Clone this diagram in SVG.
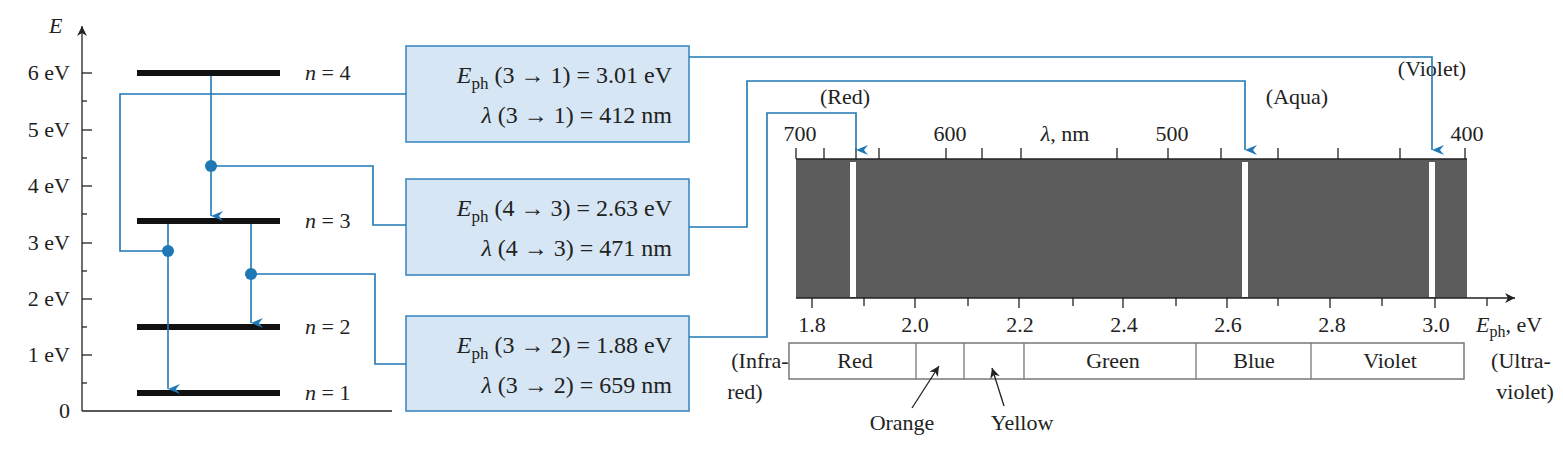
<svg xmlns="http://www.w3.org/2000/svg" width="1563" height="449" viewBox="0 0 1563 449">
<style>
text{font-family:"Liberation Serif",serif;font-size:22px;fill:#222}
.bx{font-size:24px}
.i{font-style:italic}
.c{fill:none;stroke:#1f78b4;stroke-width:1.6}
.lvl{stroke:#111;stroke-width:6}
.box{fill:#d6e6f4;stroke:#3d8ac4;stroke-width:1.6}
.t{stroke:#222;stroke-width:1.3}
</style>
<defs>
<marker id="ba" markerWidth="10" markerHeight="12" refX="5" refY="12" orient="auto-start-reverse" markerUnits="userSpaceOnUse" viewBox="0 0 10 12"><path d="M0,0 L5,4 L10,0 L5,12Z" fill="#1f78b4"/></marker>
<marker id="ka" markerWidth="10" markerHeight="14" refX="10" refY="5" orient="auto" markerUnits="userSpaceOnUse" viewBox="0 0 10 10"><path d="M0,0 L10,5 L0,10 L3,5Z" fill="#222"/></marker>
</defs>
<g id="axis">
<line x1="82" y1="411" x2="82" y2="26" class="t" marker-end="url(#ka)"/>
<line x1="82" y1="411" x2="392" y2="411" class="t"/>
<text x="49" y="33" class="i">E</text>
<g class="t">
<line x1="82" y1="73" x2="92" y2="73"/><line x1="82" y1="130" x2="92" y2="130"/><line x1="82" y1="186" x2="92" y2="186"/><line x1="82" y1="243" x2="92" y2="243"/><line x1="82" y1="299" x2="92" y2="299"/><line x1="82" y1="355" x2="92" y2="355"/>
<line x1="82" y1="101" x2="87" y2="101"/><line x1="82" y1="158" x2="87" y2="158"/><line x1="82" y1="214" x2="87" y2="214"/><line x1="82" y1="271" x2="87" y2="271"/><line x1="82" y1="327" x2="87" y2="327"/><line x1="82" y1="383" x2="87" y2="383"/>
</g>
<g text-anchor="end">
<text x="70" y="80">6 eV</text><text x="70" y="137">5 eV</text><text x="70" y="193">4 eV</text><text x="70" y="250">3 eV</text><text x="70" y="306">2 eV</text><text x="70" y="362">1 eV</text><text x="70" y="418">0</text>
</g>
</g>
<g id="levels">
<line x1="137" y1="73" x2="280" y2="73" class="lvl"/><text x="305" y="80"><tspan class="i">n</tspan> = 4</text>
<line x1="137" y1="221" x2="280" y2="221" class="lvl"/><text x="305" y="228"><tspan class="i">n</tspan> = 3</text>
<line x1="137" y1="327" x2="280" y2="327" class="lvl"/><text x="305" y="334"><tspan class="i">n</tspan> = 2</text>
<line x1="137" y1="393" x2="280" y2="393" class="lvl"/><text x="305" y="400"><tspan class="i">n</tspan> = 1</text>
</g>
<g id="box1"><rect x="406" y="46" width="283" height="96" class="box"/>
<text x="672" y="83" text-anchor="end" class="bx"><tspan class="i">E</tspan><tspan font-size="17" dy="6">ph</tspan><tspan dy="-6"> (3 → 1) = 3.01 eV</tspan></text>
<text x="672" y="123" text-anchor="end" class="bx"><tspan class="i">λ</tspan> (3 → 1) = 412 nm</text></g>
<g id="box2"><rect x="406" y="179" width="283" height="96" class="box"/>
<text x="672" y="216" text-anchor="end" class="bx"><tspan class="i">E</tspan><tspan font-size="17" dy="6">ph</tspan><tspan dy="-6"> (4 → 3) = 2.63 eV</tspan></text>
<text x="672" y="256" text-anchor="end" class="bx"><tspan class="i">λ</tspan> (4 → 3) = 471 nm</text></g>
<g id="box3"><rect x="406" y="316" width="283" height="95" class="box"/>
<text x="672" y="353" text-anchor="end" class="bx"><tspan class="i">E</tspan><tspan font-size="17" dy="6">ph</tspan><tspan dy="-6"> (3 → 2) = 1.88 eV</tspan></text>
<text x="672" y="393" text-anchor="end" class="bx"><tspan class="i">λ</tspan> (3 → 2) = 659 nm</text></g>
<g id="spectrum">
<rect x="796" y="159" width="671" height="139" fill="#5c5c5c"/>
<line x1="796" y1="159" x2="1467" y2="159" class="t"/>
<g class="t">
<line x1="796" y1="159" x2="796" y2="148"/><line x1="824" y1="159" x2="824" y2="148"/><line x1="856" y1="159" x2="856" y2="148"/><line x1="879" y1="159" x2="879" y2="148"/><line x1="946" y1="159" x2="946" y2="148"/><line x1="982" y1="159" x2="982" y2="148"/><line x1="1021" y1="159" x2="1021" y2="148"/><line x1="1117" y1="159" x2="1117" y2="148"/><line x1="1168" y1="159" x2="1168" y2="148"/><line x1="1221" y1="159" x2="1221" y2="148"/><line x1="1278" y1="159" x2="1278" y2="148"/><line x1="1338" y1="159" x2="1338" y2="148"/><line x1="1400" y1="159" x2="1400" y2="148"/><line x1="1465" y1="159" x2="1465" y2="148"/>
</g>
<rect x="850" y="162" width="6" height="135" fill="#fff"/>
<rect x="1242" y="162" width="6" height="135" fill="#fff"/>
<rect x="1429" y="162" width="6" height="135" fill="#fff"/>
<line x1="796" y1="298" x2="1515" y2="298" class="t" marker-end="url(#ka)"/>
<g class="t">
<line x1="812" y1="298" x2="812" y2="308"/><line x1="864" y1="298" x2="864" y2="306"/><line x1="915" y1="298" x2="915" y2="308"/><line x1="968" y1="298" x2="968" y2="306"/><line x1="1019" y1="298" x2="1019" y2="308"/><line x1="1073" y1="298" x2="1073" y2="306"/><line x1="1123" y1="298" x2="1123" y2="308"/><line x1="1176" y1="298" x2="1176" y2="306"/><line x1="1227" y1="298" x2="1227" y2="308"/><line x1="1278" y1="298" x2="1278" y2="306"/><line x1="1330" y1="298" x2="1330" y2="308"/><line x1="1382" y1="298" x2="1382" y2="306"/><line x1="1435" y1="298" x2="1435" y2="308"/><line x1="1487" y1="298" x2="1487" y2="306"/>
</g>
<g text-anchor="middle">
<text x="800" y="141">700</text><text x="950" y="141">600</text><text x="1065" y="141"><tspan class="i">λ</tspan>, nm</text><text x="1172" y="141">500</text><text x="1467" y="141">400</text>
<text x="812" y="332">1.8</text><text x="915" y="332">2.0</text><text x="1020" y="332">2.2</text><text x="1124" y="332">2.4</text><text x="1228" y="332">2.6</text><text x="1332" y="332">2.8</text><text x="1436" y="332">3.0</text>
<text x="845" y="104">(Red)</text><text x="1297" y="104">(Aqua)</text><text x="1432" y="76">(Violet)</text>
</g>
<text x="1476" y="332"><tspan class="i">E</tspan><tspan font-size="16" dy="5">ph</tspan><tspan dy="-5">, eV</tspan></text>
</g>
<g id="bands">
<rect x="789" y="343" width="675" height="36" fill="#fff" stroke="#777" stroke-width="1.5"/>
<g stroke="#777" stroke-width="1.3"><line x1="916" y1="343" x2="916" y2="379"/><line x1="964" y1="343" x2="964" y2="379"/><line x1="1024" y1="343" x2="1024" y2="379"/><line x1="1196" y1="343" x2="1196" y2="379"/><line x1="1311" y1="343" x2="1311" y2="379"/></g>
<g text-anchor="middle">
<text x="855" y="368">Red</text><text x="1113" y="368">Green</text><text x="1254" y="368">Blue</text><text x="1390" y="368">Violet</text>
<text x="760" y="368">(Infra-</text><text x="745" y="399">red)</text>
<text x="1521" y="368">(Ultra-</text><text x="1525" y="399">violet)</text>
<text x="902" y="430">Orange</text><text x="1022" y="430">Yellow</text>
</g>
<line x1="912" y1="408" x2="939" y2="366" class="t" marker-end="url(#ka)"/>
<line x1="1004" y1="406" x2="992" y2="368" class="t" marker-end="url(#ka)"/>
</g>
<g id="connectors">
<polyline points="211,76 211,216" class="c" marker-end="url(#ba)"/>
<polyline points="168,224 168,389" class="c" marker-end="url(#ba)"/>
<polyline points="251,224 251,323" class="c" marker-end="url(#ba)"/>
<circle cx="211" cy="166" r="6" fill="#1f78b4"/>
<circle cx="168" cy="251" r="6" fill="#1f78b4"/>
<circle cx="251" cy="274" r="6" fill="#1f78b4"/>
<polyline points="211,166 373,166 373,225 406,225" class="c"/>
<polyline points="406,94 120,94 120,251 168,251" class="c"/>
<polyline points="251,274 375,274 375,364 406,364" class="c"/>
<polyline points="689,57 1432,57 1432,150" class="c" marker-end="url(#ba)"/>
<polyline points="689,227 747,227 747,81 1245,81 1245,150" class="c" marker-end="url(#ba)"/>
<polyline points="689,337 767,337 767,113 856,113 856,150" class="c" marker-end="url(#ba)"/>
</g>
</svg>
